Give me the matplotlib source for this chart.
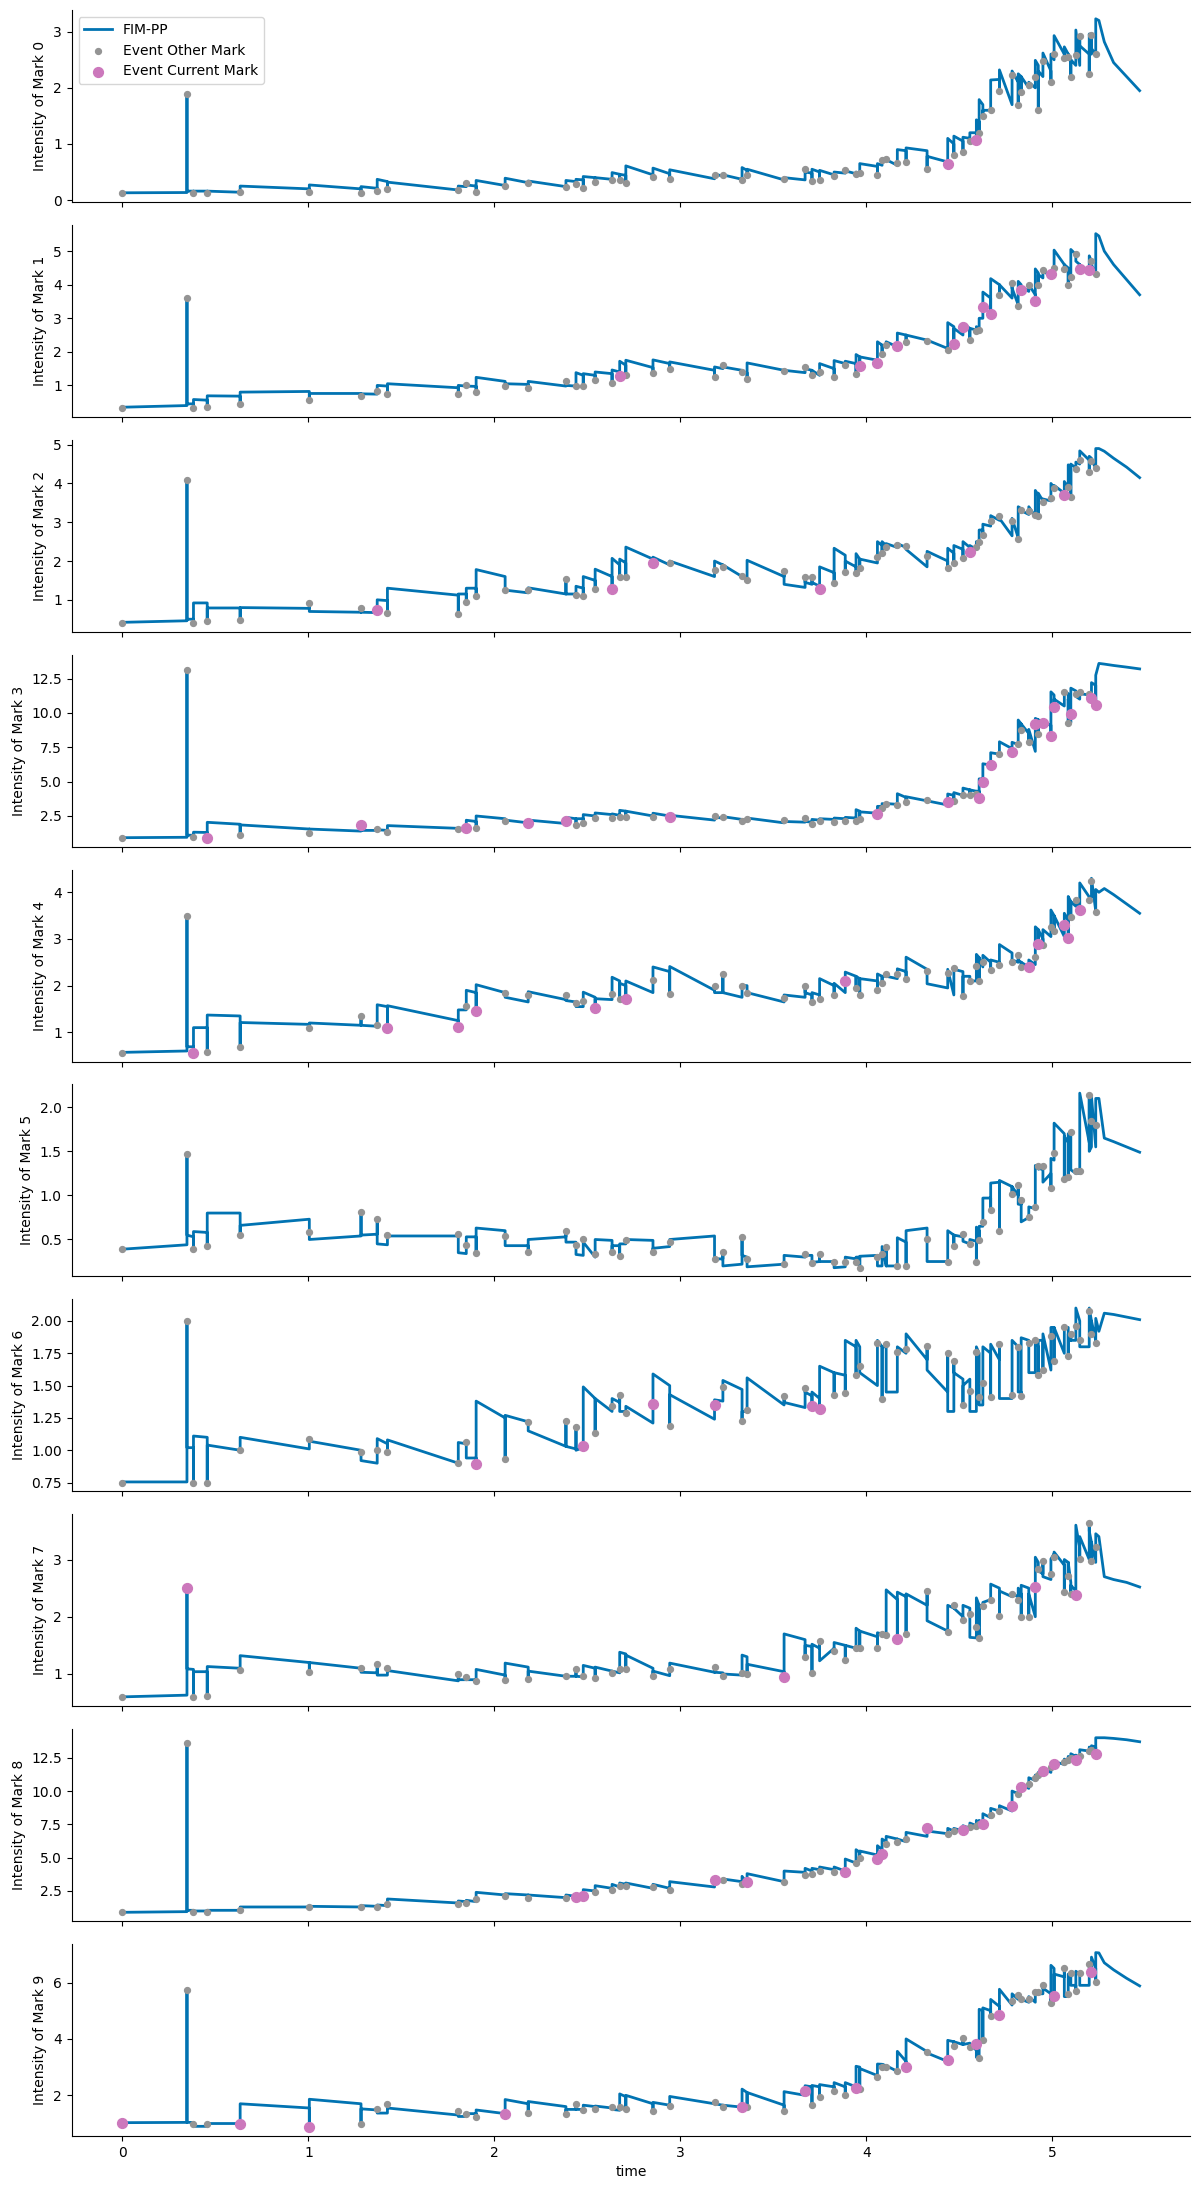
import numpy as np
import matplotlib.pyplot as plt

# event times (shared by every mark)
event_t = [0.000, 0.347, 0.382, 0.456, 0.633, 1.005, 1.283, 1.370, 1.425, 1.806,
           1.849, 1.902, 2.058, 2.182, 2.385, 2.439, 2.478, 2.542, 2.633, 2.674,
           2.707, 2.853, 2.943, 3.184, 3.229, 3.332, 3.359, 3.558, 3.671, 3.708,
           3.749, 3.827, 3.887, 3.945, 3.965, 4.060, 4.085, 4.107, 4.167, 4.214,
           4.327, 4.438, 4.471, 4.520, 4.557, 4.592, 4.607, 4.627, 4.669, 4.716,
           4.784, 4.817, 4.833, 4.874, 4.909, 4.925, 4.950, 4.993, 5.010, 5.065,
           5.086, 5.100, 5.127, 5.148, 5.199, 5.211, 5.234]
# intensity after the last event
tail_t = [5.251, 5.28, 5.33, 5.40, 5.47]

# per mark: intensity just before the event, at the event (dot), just after
pre_0 = [0.13, 0.135, 0.16, 0.16, 0.14, 0.2, 0.2, 0.21, 0.33, 0.18, 0.24, 0.25, 0.26, 0.31, 0.24, 0.33, 0.36, 0.40, 0.37, 0.46,
         0.44, 0.45, 0.47, 0.38, 0.43, 0.37, 0.53, 0.36, 0.36, 0.48, 0.50, 0.45, 0.48, 0.47, 0.47, 0.60, 0.62, 0.70, 0.62, 0.88,
         0.88, 0.68, 1.00, 1.05, 1.10, 1.20, 1.40, 1.70, 1.60, 2.15, 1.70, 2.10, 2.20, 2.00, 2.00, 2.40, 2.20, 2.30, 2.50, 2.60,
         2.60, 2.50, 2.40, 2.40, 2.60, 2.60, 2.60]
dot_0 = [0.12, 1.89, 0.12, 0.12, 0.14, 0.14, 0.12, 0.17, 0.19, 0.18, 0.31, 0.15, 0.25, 0.30, 0.23, 0.29, 0.22, 0.33, 0.35, 0.36,
         0.31, 0.42, 0.38, 0.44, 0.45, 0.36, 0.45, 0.37, 0.55, 0.34, 0.35, 0.43, 0.54, 0.46, 0.48, 0.45, 0.71, 0.74, 0.66, 0.68,
         0.56, 0.65, 0.80, 0.85, 1.06, 1.07, 1.20, 1.49, 1.60, 1.94, 2.23, 1.70, 1.93, 2.05, 2.20, 1.61, 2.47, 2.10, 2.60, 2.53,
         2.55, 2.20, 2.58, 2.92, 2.25, 2.95, 2.60]
hi_0 = [0.13, 0.16, 0.16, 0.16, 0.25, 0.27, 0.24, 0.37, 0.32, 0.25, 0.27, 0.35, 0.39, 0.34, 0.35, 0.37, 0.42, 0.40, 0.49, 0.46,
        0.61, 0.57, 0.54, 0.46, 0.45, 0.58, 0.55, 0.40, 0.50, 0.55, 0.53, 0.50, 0.52, 0.50, 0.65, 0.65, 0.72, 0.72, 0.90, 0.93,
        0.78, 1.10, 1.14, 1.12, 1.20, 1.43, 1.79, 1.60, 2.14, 2.32, 2.30, 2.25, 2.20, 2.10, 2.49, 2.30, 2.62, 2.60, 2.93, 2.73,
        2.60, 2.50, 3.03, 2.75, 2.96, 2.70, 3.23]
tail_0 = [3.2, 2.82, 2.45, 2.2, 1.95]
cur_0 = [41, 45]

pre_1 = [0.35, 0.40, 0.45, 0.56, 0.68, 0.82, 0.76, 0.74, 0.98, 0.93, 0.98, 0.97, 1.12, 1.03, 0.98, 0.98, 1.30, 1.30, 1.35, 1.40,
         1.60, 1.53, 1.65, 1.45, 1.50, 1.45, 1.38, 1.45, 1.38, 1.45, 1.30, 1.50, 1.65, 1.65, 1.85, 1.75, 2.20, 2.15, 2.15, 2.50,
         2.35, 2.10, 2.75, 2.50, 2.70, 2.65, 2.70, 3.00, 3.60, 4.00, 3.60, 3.40, 4.00, 3.80, 3.70, 4.35, 4.20, 4.20, 4.30, 4.60,
         4.50, 4.30, 4.90, 4.60, 4.30, 4.70, 4.30]
dot_1 = [0.32, 3.59, 0.32, 0.37, 0.44, 0.57, 0.68, 0.83, 0.75, 0.75, 1.00, 0.80, 0.97, 0.92, 1.14, 0.98, 0.98, 1.16, 1.06, 1.29,
         1.32, 1.38, 1.50, 1.26, 1.60, 1.40, 1.20, 1.43, 1.55, 1.30, 1.40, 1.24, 1.60, 1.35, 1.59, 1.66, 1.95, 2.20, 2.17, 2.30,
         2.33, 2.04, 2.24, 2.75, 2.35, 2.63, 2.65, 3.35, 3.12, 3.70, 4.04, 3.37, 3.83, 4.00, 3.50, 4.00, 4.45, 4.32, 4.50, 4.47,
         3.98, 4.22, 4.90, 4.47, 4.45, 4.72, 4.32]
hi_1 = [0.35, 0.45, 0.58, 0.69, 0.80, 0.76, 0.75, 1.00, 1.05, 1.00, 0.98, 1.24, 1.05, 1.12, 1.00, 1.38, 1.35, 1.40, 1.46, 1.72,
        1.75, 1.76, 1.70, 1.55, 1.55, 1.40, 1.67, 1.45, 1.50, 1.45, 1.65, 1.74, 1.72, 1.92, 1.85, 2.30, 2.20, 2.30, 2.56, 2.50,
        2.35, 2.87, 2.70, 2.85, 2.70, 2.75, 3.00, 3.78, 4.18, 4.00, 3.90, 4.10, 3.95, 4.00, 4.47, 4.30, 4.45, 4.30, 5.03, 4.60,
        4.40, 5.05, 4.70, 4.60, 4.86, 4.60, 5.52]
tail_1 = [5.45, 5.0, 4.6, 4.15, 3.7]
cur_1 = [19, 34, 35, 38, 42, 43, 47, 48, 52, 54, 57, 63, 64]

pre_2 = [0.42, 0.46, 0.50, 0.92, 0.79, 0.78, 0.68, 0.67, 0.98, 1.12, 1.15, 1.30, 1.60, 1.18, 1.15, 1.15, 1.30, 1.50, 1.60, 1.90,
         1.95, 2.05, 1.90, 1.60, 1.90, 1.60, 1.55, 1.60, 1.32, 1.40, 1.35, 1.70, 2.15, 1.85, 2.05, 1.95, 2.40, 2.40, 2.35, 2.35,
         1.85, 2.00, 2.20, 2.30, 2.35, 2.30, 2.50, 2.80, 2.90, 3.05, 2.65, 2.60, 3.35, 3.20, 3.15, 3.70, 3.55, 3.55, 3.90, 3.75,
         3.90, 4.40, 4.40, 4.50, 4.60, 4.65, 4.40]
dot_2 = [0.40, 4.08, 0.40, 0.45, 0.47, 0.92, 0.79, 0.73, 0.66, 0.63, 0.95, 1.09, 1.26, 1.26, 1.53, 1.12, 1.10, 1.27, 1.27, 1.60,
         1.60, 1.94, 1.95, 1.76, 1.85, 1.62, 1.51, 1.74, 1.60, 1.60, 1.27, 1.43, 1.71, 1.70, 1.83, 2.10, 2.22, 2.35, 2.42, 2.39,
         2.12, 1.82, 1.95, 2.09, 2.23, 2.36, 2.50, 2.67, 3.02, 3.15, 3.03, 2.56, 3.32, 3.30, 3.19, 3.15, 3.51, 3.62, 3.88, 3.69,
         3.90, 3.64, 4.37, 4.60, 4.30, 4.58, 4.39]
hi_2 = [0.42, 0.50, 0.92, 0.79, 0.80, 0.70, 0.68, 1.00, 1.30, 1.15, 1.30, 1.78, 1.25, 1.31, 1.15, 1.35, 1.60, 1.79, 2.07, 2.05,
        2.36, 2.10, 2.00, 2.00, 1.90, 1.60, 2.02, 1.40, 1.45, 1.45, 1.85, 2.33, 2.00, 2.19, 2.05, 2.50, 2.50, 2.45, 2.45, 2.30,
        2.25, 2.33, 2.40, 2.50, 2.40, 2.50, 2.80, 2.95, 3.17, 3.10, 3.10, 3.40, 3.30, 3.40, 3.82, 3.75, 3.60, 4.00, 3.95, 4.05,
        4.48, 4.50, 4.55, 4.84, 4.70, 4.60, 4.90]
tail_2 = [4.9, 4.83, 4.65, 4.42, 4.15]
cur_2 = [7, 18, 21, 30, 44, 59]

pre_3 = [0.92, 0.95, 1.10, 1.30, 1.90, 1.55, 1.40, 1.45, 1.45, 1.60, 1.60, 2.10, 2.30, 2.00, 1.95, 2.30, 2.30, 2.50, 2.60, 2.55,
         2.85, 2.50, 2.50, 2.20, 2.35, 2.25, 2.20, 2.00, 2.05, 2.05, 2.20, 2.25, 2.30, 2.35, 2.85, 2.70, 3.20, 3.35, 3.35, 3.85,
         3.60, 3.30, 4.00, 4.00, 4.40, 4.30, 4.30, 5.20, 6.20, 7.00, 7.40, 7.70, 9.20, 8.50, 7.20, 9.50, 9.30, 9.10, 11.30, 10.50,
         11.40, 9.30, 11.60, 11.00, 11.30, 11.00, 12.00]
dot_3 = [0.91, 13.15, 0.95, 0.90, 1.15, 1.24, 1.87, 1.56, 1.32, 1.58, 1.63, 1.60, 2.11, 1.99, 2.11, 1.87, 2.00, 2.35, 2.35, 2.40,
         2.40, 2.40, 2.43, 2.50, 2.40, 2.11, 2.25, 2.23, 2.35, 1.92, 2.11, 2.07, 2.10, 2.10, 2.30, 2.64, 3.08, 3.37, 3.30, 3.49,
         3.66, 3.51, 3.60, 4.05, 4.00, 4.10, 3.78, 5.00, 6.20, 7.02, 7.19, 7.77, 8.76, 7.90, 9.20, 8.50, 9.26, 8.35, 10.45, 11.50,
         9.30, 9.90, 11.40, 11.50, 11.40, 11.05, 10.60]
hi_3 = [0.92, 1.10, 1.32, 2.04, 1.85, 1.55, 1.45, 1.50, 1.80, 1.60, 2.19, 2.50, 2.20, 2.20, 2.40, 2.30, 2.60, 2.72, 2.65, 2.91,
        2.85, 2.70, 2.55, 2.40, 2.45, 2.20, 2.35, 2.10, 2.10, 2.25, 2.30, 2.35, 2.40, 2.96, 2.80, 3.20, 3.40, 3.40, 4.12, 3.90,
        3.60, 4.10, 4.20, 4.53, 4.40, 4.30, 5.20, 6.30, 7.10, 7.90, 7.86, 9.48, 9.20, 8.80, 9.60, 9.50, 9.30, 11.53, 11.00, 11.60,
        11.00, 11.80, 11.20, 11.40, 11.00, 12.20, 12.74]
tail_3 = [13.6, 13.55, 13.45, 13.33, 13.2]
cur_3 = [3, 6, 10, 13, 14, 22, 35, 41, 46, 47, 48, 50, 54, 56, 57, 58, 61, 65, 66]

pre_4 = [0.57, 0.60, 0.69, 1.10, 1.35, 1.17, 1.15, 1.13, 1.55, 1.25, 1.48, 1.85, 1.85, 1.65, 1.70, 1.65, 1.55, 1.75, 1.70, 2.10,
         2.00, 1.85, 2.30, 1.90, 1.85, 1.75, 2.00, 1.65, 1.75, 1.80, 1.80, 2.00, 1.85, 2.20, 2.15, 2.10, 2.20, 2.20, 2.15, 2.30,
         2.35, 1.95, 1.80, 2.30, 2.20, 2.10, 2.60, 2.40, 2.50, 2.50, 2.70, 2.50, 2.50, 2.40, 2.45, 3.20, 3.00, 3.05, 3.50, 3.05,
         3.40, 3.80, 3.70, 3.65, 3.90, 3.90, 3.60]
dot_4 = [0.56, 3.50, 0.56, 0.57, 0.68, 1.10, 1.34, 1.16, 1.09, 1.12, 1.57, 1.46, 1.84, 1.80, 1.79, 1.63, 1.68, 1.53, 1.82, 1.72,
         1.71, 2.11, 1.82, 1.99, 2.25, 2.00, 1.84, 1.73, 2.00, 1.64, 1.71, 1.80, 2.10, 1.95, 1.80, 1.90, 2.05, 2.25, 2.25, 2.15,
         2.32, 2.28, 2.38, 1.78, 2.10, 2.42, 2.10, 2.50, 2.33, 2.45, 2.50, 2.65, 2.40, 2.39, 2.62, 2.89, 2.87, 3.26, 3.17, 3.29,
         3.01, 3.48, 3.84, 3.62, 3.84, 4.25, 3.57]
hi_4 = [0.57, 0.69, 1.10, 1.37, 1.21, 1.20, 1.15, 1.59, 1.57, 1.48, 1.90, 2.02, 1.75, 1.87, 1.68, 1.55, 1.86, 1.72, 2.18, 2.05,
        2.10, 2.40, 2.41, 1.85, 1.85, 2.00, 1.85, 1.80, 1.85, 1.85, 2.15, 2.05, 2.29, 2.20, 2.15, 2.25, 2.20, 2.20, 2.36, 2.61,
        2.04, 2.35, 2.35, 2.20, 2.10, 2.67, 2.60, 2.65, 2.55, 2.88, 2.55, 2.55, 2.50, 2.55, 3.26, 3.20, 3.20, 3.62, 3.50, 3.55,
        3.91, 3.80, 3.80, 4.20, 3.80, 4.30, 4.06]
tail_4 = [4.0, 4.08, 3.95, 3.75, 3.55]
cur_4 = [2, 8, 9, 11, 17, 20, 32, 53, 55, 59, 60, 63]

pre_5 = [0.39, 0.44, 0.53, 0.58, 0.80, 0.73, 0.54, 0.56, 0.44, 0.54, 0.34, 0.53, 0.60, 0.43, 0.53, 0.47, 0.32, 0.30, 0.49, 0.43,
         0.45, 0.49, 0.42, 0.54, 0.28, 0.22, 0.30, 0.22, 0.30, 0.32, 0.25, 0.25, 0.19, 0.28, 0.30, 0.32, 0.20, 0.20, 0.20, 0.47,
         0.63, 0.25, 0.55, 0.53, 0.45, 0.48, 0.60, 0.65, 0.97, 1.15, 1.10, 1.00, 0.90, 0.75, 0.85, 1.30, 1.30, 1.25, 1.40, 1.70,
         1.60, 1.70, 1.25, 1.25, 1.60, 1.55, 1.55]
dot_5 = [0.39, 1.47, 0.39, 0.43, 0.55, 0.59, 0.81, 0.73, 0.55, 0.56, 0.44, 0.35, 0.54, 0.36, 0.60, 0.44, 0.50, 0.33, 0.36, 0.31,
         0.49, 0.36, 0.47, 0.28, 0.36, 0.53, 0.28, 0.22, 0.34, 0.23, 0.33, 0.24, 0.25, 0.24, 0.18, 0.30, 0.34, 0.42, 0.20, 0.20,
         0.51, 0.25, 0.43, 0.56, 0.45, 0.25, 0.49, 0.70, 0.84, 0.60, 1.02, 1.12, 0.95, 0.75, 0.87, 1.33, 1.33, 1.08, 1.48, 1.19,
         1.21, 1.72, 1.28, 1.28, 2.14, 1.84, 1.80]
hi_5 = [0.39, 0.55, 0.59, 0.80, 0.66, 0.50, 0.55, 0.45, 0.54, 0.35, 0.53, 0.63, 0.43, 0.50, 0.47, 0.33, 0.47, 0.50, 0.43, 0.45,
        0.50, 0.40, 0.50, 0.28, 0.20, 0.32, 0.19, 0.32, 0.32, 0.24, 0.25, 0.18, 0.30, 0.30, 0.31, 0.20, 0.42, 0.20, 0.52, 0.60,
        0.25, 0.60, 0.55, 0.48, 0.50, 0.64, 0.65, 0.97, 1.14, 1.17, 1.10, 0.90, 0.70, 0.87, 1.34, 1.30, 1.15, 1.42, 1.82, 1.67,
        1.70, 1.29, 1.25, 2.16, 1.50, 2.12, 2.10]
tail_5 = [2.1, 1.65, 1.61, 1.55, 1.49]
cur_5 = []

pre_6 = [0.755, 0.755, 1.02, 1.10, 1.00, 1.01, 1.00, 0.90, 1.05, 0.90, 1.05, 0.94, 1.25, 1.22, 1.03, 1.01, 1.02, 1.40, 1.30, 1.37,
         1.30, 1.21, 1.50, 1.24, 1.38, 1.47, 1.30, 1.35, 1.33, 1.42, 1.40, 1.60, 1.58, 1.80, 1.80, 1.50, 1.80, 1.80, 1.45, 1.75,
         1.70, 1.45, 1.30, 1.55, 1.55, 1.30, 1.75, 1.35, 1.75, 1.70, 1.40, 1.80, 1.45, 1.85, 1.60, 1.80, 1.85, 1.62, 1.95, 1.75,
         1.95, 1.85, 1.85, 2.00, 1.80, 2.00, 1.85]
dot_6 = [0.75, 2.00, 0.75, 0.75, 1.00, 1.09, 0.99, 1.00, 0.99, 0.90, 1.06, 0.89, 0.93, 1.22, 1.23, 1.18, 1.03, 1.13, 1.34, 1.43,
         1.29, 1.36, 1.19, 1.35, 1.49, 1.23, 1.31, 1.42, 1.48, 1.34, 1.32, 1.43, 1.44, 1.58, 1.65, 1.83, 1.40, 1.82, 1.76, 1.78,
         1.81, 1.75, 1.69, 1.35, 1.46, 1.76, 1.41, 1.52, 1.41, 1.82, 1.43, 1.80, 1.42, 1.83, 1.85, 1.58, 1.62, 1.88, 1.69, 1.95,
         1.73, 1.90, 1.96, 1.85, 2.08, 1.90, 1.83]
hi_6 = [0.755, 1.02, 1.11, 1.04, 1.10, 1.07, 0.92, 1.09, 1.08, 1.06, 0.94, 1.38, 1.27, 1.15, 1.03, 1.00, 1.49, 1.40, 1.40, 1.30,
        1.34, 1.59, 1.43, 1.39, 1.54, 1.30, 1.56, 1.37, 1.45, 1.45, 1.65, 1.60, 1.85, 1.85, 1.60, 1.85, 1.80, 1.45, 1.80, 1.90,
        1.62, 1.30, 1.60, 1.50, 1.30, 1.80, 1.35, 1.80, 1.82, 1.40, 1.85, 1.45, 1.87, 1.60, 1.85, 1.85, 1.90, 1.95, 1.95, 1.95,
        1.90, 1.85, 2.10, 1.80, 2.10, 2.00, 2.02]
tail_6 = [1.92, 2.06, 2.05, 2.03, 2.01]
cur_6 = [11, 16, 21, 23, 29, 30]

pre_7 = [0.60, 0.63, 1.08, 1.04, 1.10, 1.20, 1.10, 1.02, 0.98, 0.88, 0.90, 0.90, 0.98, 1.12, 0.96, 0.96, 0.95, 1.10, 1.05, 1.02,
         1.35, 1.10, 0.97, 1.03, 1.02, 0.98, 1.30, 1.04, 1.60, 1.48, 1.45, 1.45, 1.50, 1.45, 1.75, 1.65, 1.70, 1.65, 2.30, 2.35,
         2.20, 1.75, 2.15, 2.00, 2.15, 1.63, 2.20, 2.20, 2.30, 2.50, 2.35, 2.35, 2.40, 2.50, 2.00, 2.95, 2.75, 2.65, 3.10, 2.90,
         2.95, 2.60, 2.45, 3.20, 3.00, 3.30, 2.95]
dot_7 = [0.59, 2.50, 0.60, 0.61, 1.07, 1.03, 1.10, 1.17, 1.10, 1.00, 0.95, 0.87, 0.90, 0.91, 0.97, 1.09, 0.96, 0.93, 1.01, 1.08,
         1.08, 0.97, 1.09, 1.12, 0.97, 1.01, 1.00, 0.95, 1.29, 1.01, 1.58, 1.41, 1.24, 1.45, 1.45, 1.45, 1.69, 1.68, 1.61, 1.69,
         2.45, 1.74, 2.20, 1.95, 2.05, 1.82, 1.62, 2.18, 2.30, 2.01, 2.40, 2.30, 1.99, 2.00, 2.52, 2.84, 2.97, 2.75, 3.05, 2.43,
         2.72, 2.40, 2.38, 3.01, 3.64, 2.98, 3.22]
hi_7 = [0.60, 1.09, 1.04, 1.13, 1.32, 1.20, 1.03, 0.98, 1.06, 0.90, 0.90, 1.08, 1.19, 1.05, 0.96, 0.96, 1.15, 1.12, 1.05, 1.38,
        1.33, 1.05, 1.19, 1.03, 1.00, 1.33, 1.17, 1.70, 1.50, 1.52, 1.23, 1.55, 1.50, 1.80, 1.75, 1.72, 1.70, 2.47, 2.43, 2.40,
        1.93, 2.20, 2.15, 2.20, 1.64, 2.33, 2.20, 2.25, 2.57, 2.45, 2.40, 2.50, 2.55, 2.40, 3.04, 2.80, 2.70, 3.01, 3.13, 3.00,
        2.95, 2.55, 3.60, 3.40, 3.50, 3.30, 3.45]
tail_7 = [3.4, 2.7, 2.65, 2.6, 2.52]
cur_7 = [1, 27, 38, 54, 62]

pre_8 = [0.9, 0.95, 1.05, 1.0, 1.05, 1.3, 1.3, 1.35, 1.4, 1.6, 1.7, 1.7, 2.2, 2.2, 2.0, 2.1, 2.1, 2.5, 2.7, 2.8,
         3.0, 2.7, 2.7, 2.8, 3.2, 3.2, 3.1, 3.2, 3.9, 4.0, 4.1, 4.1, 4.0, 4.6, 5.4, 5.2, 5.6, 6.2, 6.4, 6.2,
         6.6, 6.8, 7.0, 7.0, 7.2, 7.4, 7.6, 7.6, 8.0, 8.5, 8.5, 9.8, 10.0, 10.2, 10.8, 11.0, 11.2, 11.4, 11.8, 12.0,
         12.2, 12.4, 12.6, 12.5, 13.0, 13.2, 13.3]
dot_8 = [0.9, 13.6, 0.95, 0.95, 1.1, 1.3, 1.3, 1.3, 1.5, 1.5, 1.6, 1.9, 2.1, 2.0, 2.0, 2.05, 2.1, 2.4, 2.6, 2.9,
         2.9, 2.8, 2.6, 3.3, 3.3, 3.0, 3.2, 3.2, 3.7, 3.8, 4.0, 3.9, 3.9, 4.6, 5.0, 4.9, 5.3, 6.0, 6.2, 6.4,
         7.2, 6.8, 7.0, 7.1, 7.3, 7.4, 7.5, 7.5, 8.2, 8.5, 8.9, 9.8, 10.3, 10.5, 11.0, 11.2, 11.5, 11.8, 12.0, 12.2,
         12.3, 12.5, 12.3, 12.6, 13.0, 13.1, 12.8]
hi_8 = [0.9, 1.05, 1.0, 1.05, 1.3, 1.35, 1.4, 1.45, 1.9, 1.75, 1.8, 2.4, 2.3, 2.2, 2.2, 2.2, 2.6, 2.9, 3.0, 3.1,
        3.1, 3.0, 3.2, 3.4, 3.4, 3.6, 3.8, 4.0, 4.2, 4.2, 4.3, 4.3, 4.9, 5.6, 5.5, 5.9, 6.4, 6.6, 6.4, 6.9,
        7.0, 7.2, 7.2, 7.4, 7.6, 7.8, 7.8, 8.3, 8.7, 8.9, 10.0, 10.2, 10.5, 11.0, 11.2, 11.4, 11.7, 12.1, 12.2, 12.4,
        12.6, 12.8, 12.7, 13.1, 13.3, 13.4, 14.0]
tail_8 = [14.0, 14.0, 13.95, 13.85, 13.7]
cur_8 = [15, 16, 23, 26, 32, 35, 36, 40, 43, 47, 50, 52, 56, 58, 62, 66]

pre_9 = [1.03, 1.04, 1.04, 0.90, 1.00, 1.55, 1.70, 1.48, 1.37, 1.30, 1.25, 1.35, 1.35, 1.70, 1.60, 1.50, 1.50, 1.60, 1.55, 1.47,
         1.95, 1.70, 1.65, 1.70, 1.65, 1.58, 2.10, 1.65, 2.00, 2.30, 2.30, 2.30, 2.30, 2.30, 3.00, 2.70, 3.10, 3.05, 2.85, 3.20,
         3.55, 3.20, 3.90, 3.80, 3.85, 3.60, 3.30, 5.00, 5.00, 5.15, 5.20, 5.40, 5.40, 5.30, 5.30, 5.60, 5.60, 5.60, 6.50, 6.20,
         5.50, 6.20, 5.90, 6.30, 5.90, 6.60, 6.50]
dot_9 = [1.02, 5.75, 1.00, 1.00, 1.00, 0.87, 0.99, 1.50, 1.68, 1.43, 1.34, 1.22, 1.32, 1.37, 1.34, 1.68, 1.47, 1.50, 1.60, 1.60,
         1.50, 1.43, 1.62, 1.75, 1.58, 1.58, 1.60, 1.46, 2.14, 1.66, 1.93, 2.14, 2.01, 2.25, 2.22, 2.66, 2.99, 2.99, 2.87, 2.99,
         3.52, 3.25, 3.76, 4.05, 3.70, 3.82, 3.31, 3.96, 4.80, 4.86, 5.35, 5.55, 5.41, 5.41, 5.65, 5.65, 5.92, 5.29, 5.53, 6.50,
         5.59, 6.35, 5.70, 6.35, 6.67, 6.39, 6.02]
hi_9 = [1.03, 1.04, 0.90, 1.00, 1.70, 1.86, 1.52, 1.37, 1.55, 1.25, 1.35, 1.48, 1.85, 1.78, 1.50, 1.50, 1.65, 1.62, 1.50, 2.05,
        2.00, 1.75, 1.96, 1.70, 1.65, 2.22, 2.10, 2.13, 2.34, 2.35, 2.38, 2.45, 2.45, 3.03, 2.95, 3.11, 3.10, 3.05, 3.56, 4.00,
        3.50, 3.95, 3.90, 3.80, 3.80, 3.35, 5.05, 5.10, 5.40, 5.76, 5.60, 5.50, 5.40, 5.50, 5.70, 5.60, 5.80, 6.61, 6.30, 5.50,
        6.30, 5.90, 6.40, 5.90, 6.60, 6.90, 7.06]
tail_9 = [7.05, 6.7, 6.45, 6.15, 5.88]
cur_9 = [0, 4, 5, 12, 25, 28, 33, 39, 41, 45, 49, 58, 65]

pre = [pre_0, pre_1, pre_2, pre_3, pre_4, pre_5, pre_6, pre_7, pre_8, pre_9]
dots = [dot_0, dot_1, dot_2, dot_3, dot_4, dot_5, dot_6, dot_7, dot_8, dot_9]
post = [hi_0, hi_1, hi_2, hi_3, hi_4, hi_5, hi_6, hi_7, hi_8, hi_9]
tails = [tail_0, tail_1, tail_2, tail_3, tail_4, tail_5, tail_6, tail_7, tail_8, tail_9]
current = [cur_0, cur_1, cur_2, cur_3, cur_4, cur_5, cur_6, cur_7, cur_8, cur_9]

blue = '#0173b2'
grey = '#949494'
pink = '#cc78bc'

fig, axes = plt.subplots(10, 1, figsize=(11.99, 21.9), dpi=100, sharex=True)
fig.subplots_adjust(left=0.0597, right=0.9929, top=0.9954, bottom=0.0247, hspace=0.119)

et = np.array(event_t)
for k, ax in enumerate(axes):
    # curve: before -> at event -> after, then decay to next event
    xs, ys = [], []
    for i, t in enumerate(event_t):
        xs += [t, t, t]
        ys += [pre[k][i], dots[k][i], post[k][i]]
    xs += tail_t
    ys += tails[k]
    ax.plot(xs, ys, color=blue, lw=2, label='FIM-PP', zorder=2)

    d = np.array(dots[k])
    mask = np.ones(len(event_t), dtype=bool)
    mask[current[k]] = False
    ax.scatter(et[mask], d[mask], s=18, color=grey, zorder=3, label='Event Other Mark')
    ax.scatter(et[~mask], d[~mask], s=50, color=pink, zorder=4, label='Event Current Mark')

    ax.set_ylabel(f'Intensity of Mark {k}')
    ax.spines['top'].set_visible(False)
    ax.spines['right'].set_visible(False)

axes[0].legend(loc='upper left')
axes[-1].set_xlabel('time')
axes[-1].set_xticks([0, 1, 2, 3, 4, 5])

fig.savefig('out.png')
